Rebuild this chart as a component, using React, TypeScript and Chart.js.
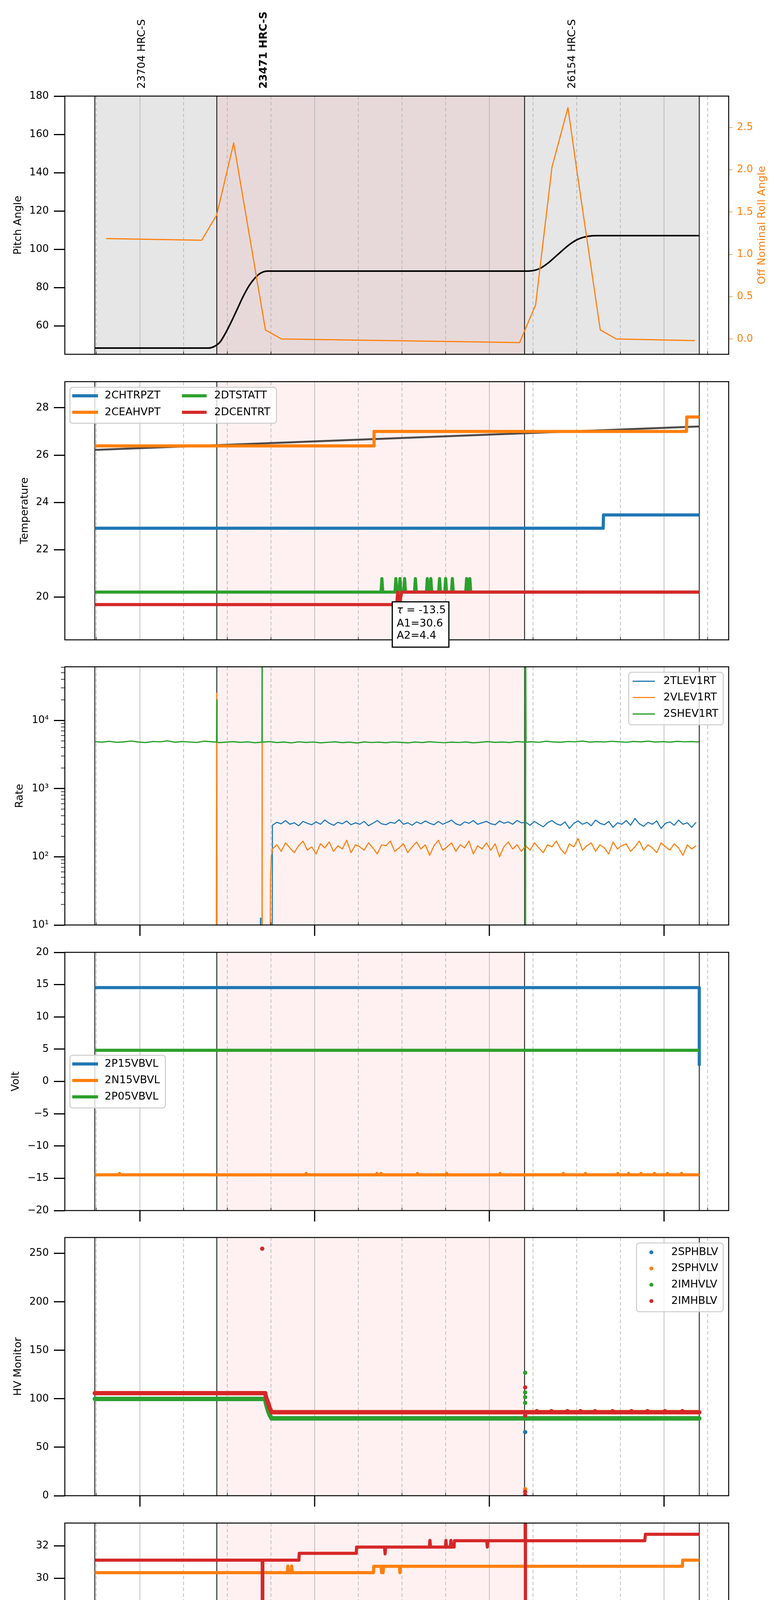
import { useEffect, useRef } from "react";
import { Chart, registerables } from "chart.js";

Chart.register(...registerables);

const FONT = "'DejaVu Sans', 'Liberation Sans', sans-serif";
const BLUE = "#1f77b4";
const ORANGE = "#ff7f0e";
const GREEN = "#2ca02c";
const RED = "#d62728";

type Pt = [number, number] | null;

// time axis: minutes after 2021-10-20 20:00
const X_MIN = 34.2;
const X_MAX = 262.2;
const hourTicks = [60, 120, 180, 240];
const hourLabels = ["21h", "22h", "23h", "00h"];
const minorTicks = [45, 75, 90, 105, 135, 150, 165, 195, 210, 225, 255];
const minorLabels = ["45", "15", "30", "45", "15", "30", "45", "15", "30", "45", "15"];
const obsEdges = [44.5, 86.4, 192.1, 252.1];
const obsidNames = ["23704 HRC-S", "23471 HRC-S", "26154 HRC-S"];
const obsidAt = [60.7, 102.6, 208.6];

// ---- panel 1: attitude ----
const pitch: Pt[] = [
  [44.5, 48.4], [83.5, 48.4], [85.5, 49.2], [87.5, 51.5], [89.5, 56.5], [91.5, 62.5], [93.5, 69],
  [95.5, 75.5], [97.5, 81], [99.5, 85], [101.5, 87.6], [104, 88.6], [193.5, 88.6], [196, 89.2],
  [198, 90.5], [200, 92.6], [202, 95.2], [204, 97.9], [206, 100.6], [208, 103], [210, 104.9],
  [212, 106.1], [214, 106.8], [217, 107.1], [252.1, 107.1],
];
const roll: Pt[] = [
  [48.4, 1.186], [81.2, 1.167], [86.35, 1.463], [92.2, 2.316], [103.1, 0.107], [108.6, 0.0],
  [190.4, -0.042], [195.9, 0.404], [201.5, 2.028], [207.0, 2.734], [209.9, 2.028], [218.1, 0.107],
  [223.6, 0.0], [250.6, -0.02],
];

// ---- panel 2: temperature ----
const tempModel: Pt[] = [[44.5, 26.22], [252.1, 27.21]];
const chtrpzt: Pt[] = [[44.5, 22.91], [219.1, 22.91], [219.2, 23.47], [252.1, 23.47]];
const ceahvpt: Pt[] = [[44.5, 26.39], [140.3, 26.39], [140.4, 27.0], [247.7, 27.0], [247.8, 27.61], [252.1, 27.61]];
const dtstatt: Pt[] = [
  [44.5, 20.21], [142.8, 20.21], [143.1, 20.78], [143.4, 20.21], [147.6, 20.21], [147.9, 20.78],
  [148.2, 20.21], [149.0, 20.21], [149.3, 20.78], [149.6, 20.21], [150.6, 20.21], [150.9, 20.78],
  [151.2, 20.21], [154.3, 20.21], [154.6, 20.78], [154.9, 20.21], [158.4, 20.21], [158.7, 20.78],
  [159.0, 20.21], [159.6, 20.21], [159.9, 20.78], [160.2, 20.21], [162.6, 20.21], [162.9, 20.78],
  [163.2, 20.21], [164.7, 20.21], [165.0, 20.78], [165.3, 20.21], [167.0, 20.21], [167.3, 20.78],
  [167.6, 20.21], [171.9, 20.21], [172.2, 20.78], [172.5, 20.21], [173.0, 20.21], [173.3, 20.78],
  [173.6, 20.21], [252.1, 20.21],
];
const dcentrt: Pt[] = [[44.5, 19.68], [148.2, 19.68], [148.5, 20.21], [149.2, 19.75], [149.9, 20.21], [252.1, 20.21]];

// ---- panel 3: rates (log) ----
const SHEV_T0 = 44.5;
const SHEV_DT = 2.5;
const shev1rtNoise = [
  4870, 4790, 4930, 4760, 4840, 4980, 4810, 4730, 4900, 4850,
  5010, 4780, 4890, 4820, 4750, 4950, 4860, 4720, 4800, 4880,
  4760, 4840, 4700, 4790, 4870, 4730, 4810, 4680, 4850, 4750,
  4820, 4690, 4770, 4840, 4720, 4790, 4660, 4830, 4740, 4800,
  4700, 4820, 4760, 4680, 4810, 4730, 4860, 4770, 4710, 4800,
  4740, 4830, 4690, 4780, 4870, 4760, 4810, 4730, 4890, 4800,
  4860, 4770, 4940, 4830, 4780, 4900, 4850, 4970, 4790, 4880,
  4820, 4930, 4860, 4770, 4910, 4840, 4960, 4810, 4880, 4790,
  4920, 4850, 4890, 4830,
];
const shev1rtSpikes: Pt[] = [
  [86.3, 4800], [86.4, 20000], [86.5, 4800], [101.9, 4800], [101.95, 90000], [102.0, 4800],
  [192.2, 4800], [192.3, 90000], [192.35, 1], [192.4, 90000], [192.45, 1], [192.5, 90000], [192.6, 4800],
];
const RATE_T0 = 105.5;
const RATE_DT = 1.5;
const tlev1rtNoise = [
  290, 320, 305, 340, 300, 315, 285, 330, 310, 295,
  325, 300, 345, 310, 290, 320, 305, 335, 295, 315,
  300, 330, 285, 310, 340, 305, 295, 320, 310, 350,
  300, 315, 290, 325, 305, 335, 310, 295, 330, 300,
  320, 345, 305, 290, 325, 310, 340, 300, 315, 330,
  305, 295, 335, 310, 325, 300, 340, 315,
  320, 290, 330, 300, 275, 315, 340, 305, 290, 325,
  260, 310, 335, 300, 320, 285, 345, 310, 295, 330,
  270, 315, 300, 340, 290, 365, 305, 280, 320, 300,
  335, 260, 310, 325, 290, 345, 300, 315, 270, 320,
];
const tlev1rtLead: Pt[] = [[101.3, 1], [101.4, 12.6], [101.5, 1], [105.4, 1]];
const vlev1rtNoise = [
  130, 150, 120, 160, 135, 115, 145, 170, 125, 140,
  110, 155, 135, 165, 120, 145, 130, 175, 115, 150,
  140, 125, 160, 135, 110, 150, 145, 170, 120, 135,
  155, 115, 140, 165, 130, 150, 105, 145, 175, 125,
  140, 160, 120, 150, 135, 170, 110, 145, 130, 160,
  125, 155, 100, 140, 165, 130, 150, 120,
  145, 125, 160, 135, 115, 150, 140, 170, 130, 110,
  155, 140, 185, 125, 145, 160, 120, 150, 135, 110,
  165, 130, 145, 155, 120, 140, 170, 125, 150, 135,
  115, 160, 140, 125, 155, 135, 105, 150, 130, 145,
];
const vlev1rtLead: Pt[] = [
  [86.2, 1], [86.35, 25000], [86.5, 1], [101.9, 1], [101.95, 4700], [102.0, 1],
  [104.7, 1], [104.8, 40], [105.1, 100],
];

// ---- panel 4: voltages ----
const p15vbvl: Pt[] = [[44.5, 14.54], [252.1, 14.54], [252.1, 2.6]];
const p05vbvl: Pt[] = [[44.5, 4.83], [252.1, 4.83]];
const n15vbvl: Pt[] = [
  [44.5, -14.46], [52.8, -14.46], [53.0, -14.25], [53.2, -14.46], [116.9, -14.46], [117.1, -14.25],
  [117.3, -14.46], [141.2, -14.46], [141.4, -14.25], [141.6, -14.46], [142.6, -14.46], [142.8, -14.25],
  [143.0, -14.46], [155.1, -14.46], [155.3, -14.25], [155.5, -14.46], [165.2, -14.46], [165.4, -14.25],
  [165.6, -14.46], [183.5, -14.46], [183.7, -14.25], [183.9, -14.46], [205.2, -14.46], [205.4, -14.25],
  [205.6, -14.46], [212.8, -14.46], [213.0, -14.25], [213.2, -14.46], [223.9, -14.46], [224.1, -14.25],
  [224.3, -14.46], [227.6, -14.46], [227.8, -14.25], [228.0, -14.46], [231.9, -14.46], [232.1, -14.25],
  [232.3, -14.46], [236.5, -14.46], [236.7, -14.25], [236.9, -14.46], [241.0, -14.46], [241.2, -14.25],
  [241.4, -14.46], [245.8, -14.46], [246.0, -14.25], [246.2, -14.46], [252.1, -14.46],
];

// ---- panel 5: HV monitor ----
const sphblv: Pt[] = [
  [44.5, 99.9], [103.0, 99.9], [103.3, 95], [103.7, 90.8], [104.1, 86.8], [104.6, 83], [105.2, 79.8],
  [192.1, 79.8], null, [192.3, 65.6], null, [192.5, 79.8], [252.1, 79.8],
];
const sphvlv: Pt[] = [
  [44.5, 105.8], [103.0, 105.8], [103.4, 100.5], [103.9, 96.8], [104.3, 92.7], [104.8, 88.9], [105.2, 86.1],
  [192.1, 86.1], null, [192.3, 6.8], null, [192.5, 86.1], [252.1, 86.1],
];
const imhvlv: Pt[] = [
  [44.5, 99.9], [103.0, 99.9], [103.3, 95], [103.7, 90.8], [104.1, 86.8], [104.6, 83], [105.2, 79.8],
  [192.1, 79.8], null, [192.3, 126.9], null, [192.3, 106.6], null, [192.3, 101.7], null, [192.3, 95.8],
  null, [192.5, 79.8], [252.1, 79.8],
];
const imhblv: Pt[] = [
  [44.5, 105.8], [101.9, 105.8], null, [102.0, 254.9], null, [102.1, 105.8], [103.0, 105.8],
  [103.4, 100.5], [103.9, 96.8], [104.3, 92.7], [104.8, 88.9], [105.2, 86.1], [192.1, 86.1],
  null, [192.3, 111.8], null, [192.3, 82.6], null, [192.3, 4.1], null, [192.3, 0.6], null,
  [192.5, 86.1], [196.0, 86.1], [196.3, 87.2], [196.6, 86.1], [201.0, 86.1], [201.3, 87.2], [201.6, 86.1],
  [206.5, 86.1], [206.8, 87.2], [207.1, 86.1], [211.0, 86.1], [211.3, 87.2], [211.6, 86.1],
  [216.0, 86.1], [216.3, 87.2], [216.6, 86.1], [222.0, 86.1], [222.3, 87.2], [222.6, 86.1],
  [228.5, 86.1], [228.8, 87.2], [229.1, 86.1], [234.0, 86.1], [234.3, 87.2], [234.6, 86.1],
  [240.0, 86.1], [240.3, 87.2], [240.6, 86.1], [246.0, 86.1], [246.3, 87.2], [246.6, 86.1], [252.1, 86.1],
];

// ---- panel 6: detector temperatures ----
const spinatm: Pt[] = [
  [44.5, 18.95], [112.9, 18.95], [113.0, 19.64], [113.3, 18.9], [113.6, 19.64], [113.9, 18.9],
  [114.2, 19.64], [114.5, 18.9], [114.8, 19.64], [115.1, 18.9], [115.4, 19.64], [115.7, 18.9],
  [116.0, 19.64], [116.3, 18.9], [116.6, 19.64], [116.9, 18.9], [117.2, 19.64], [117.5, 18.9],
  [117.8, 19.64], [118.1, 18.9], [118.4, 19.64], [124.2, 19.64], [124.3, 18.9], [124.4, 19.64],
  [252.1, 19.64],
];
const sphvatm: Pt[] = [
  [44.5, 30.34], [110.6, 30.34], [110.8, 30.75], [111.0, 30.34], [111.9, 30.34], [112.1, 30.75],
  [112.3, 30.34], [140.2, 30.34], [140.3, 30.73], [142.8, 30.73], [143.0, 30.34], [143.2, 30.73],
  [143.5, 30.34], [143.7, 30.73], [149.1, 30.73], [149.3, 30.34], [149.5, 30.73], [246.3, 30.73],
  [246.4, 31.11], [252.1, 31.11],
];
const iminatm: Pt[] = [[44.5, 20.32], [165.0, 20.32], [165.2, 21.07], [165.4, 20.32], [252.1, 20.32]];
const imhvatm: Pt[] = [
  [44.5, 31.11], [102.0, 31.11], [102.1, 10], [102.2, 31.11], [114.6, 31.11], [114.7, 31.53],
  [134.3, 31.53], [134.4, 31.92], [144.0, 31.92], [144.2, 31.5], [144.4, 31.92], [159.4, 31.92],
  [159.6, 32.33], [159.8, 31.92], [164.9, 31.92], [165.1, 32.33], [165.3, 31.92], [166.6, 31.92],
  [166.8, 32.33], [167.0, 31.92], [167.9, 31.92], [168.0, 32.31], [179.1, 32.31], [179.3, 31.92],
  [179.5, 32.31], [192.3, 32.31], [192.35, 40], [192.4, 10], [192.45, 32.31], [233.4, 32.31],
  [233.6, 32.71], [252.1, 32.71],
];

// ---- panel 7: FEA temperatures ----
const fhtrmzt: Pt[] = [[44.5, 22.92], [134.6, 22.92], [135.0, 22.38], [252.1, 22.38]];
const fradpyt: Pt[] = [[44.5, 17.65], [99.6, 17.65], [99.8, 17.16], [252.1, 17.16]];
const fepratm: Pt[] = [
  [44.5, 24.64], [101.9, 24.64], [102.0, 22.72], [102.1, 24.64], [145.5, 24.64], [145.6, 23.89],
  [145.8, 23.89], [145.9, 24.64], [167.2, 24.64], [167.3, 23.89], [167.5, 23.89], [167.6, 24.64],
  [170.1, 24.64], [170.2, 23.89], [170.5, 23.89], [170.6, 24.64], [171.2, 24.64], [171.3, 23.89],
  [172.0, 23.89], [172.1, 24.64], [172.6, 24.64], [172.7, 23.89], [173.6, 23.89], [173.7, 24.64],
  [174.1, 24.64], [174.2, 23.89], [174.9, 23.89], [175.0, 24.64], [175.2, 24.64], [175.3, 23.89],
  [203.9, 23.89], [204.6, 24.64], [205.0, 23.89], [252.1, 23.89],
];
const fe00atm: Pt[] = [
  [44.5, 22.67], [102.0, 22.67], [102.1, 10], [102.2, 22.67], [134.5, 22.67], [134.6, 23.04],
  [134.8, 22.35], [135.2, 22.67], [135.6, 22.35], [136.0, 22.67], [136.4, 22.35], [136.8, 22.67],
  [137.2, 22.35], [137.6, 22.67], [138.0, 22.35], [138.4, 22.67], [138.8, 22.35], [139.2, 22.67],
  [139.6, 22.35], [140.0, 22.67], [140.4, 22.35], [140.8, 22.67], [141.3, 22.35], [141.8, 22.67],
  [142.3, 22.35], [145.2, 22.35], [145.4, 22.67], [145.6, 22.35], [153.6, 22.35], [153.8, 22.67],
  [154.0, 22.35], [156.1, 22.35], [156.3, 24.0], [156.5, 22.35], [157.2, 22.35], [157.4, 23.04],
  [157.6, 22.35], [164.5, 22.35], [164.7, 21.71], [164.9, 22.35], [166.7, 22.35], [166.9, 22.67],
  [167.1, 22.35], [171.2, 22.35], [171.4, 21.38], [171.6, 22.35], [176.2, 22.35], [176.4, 23.36],
  [176.6, 22.35], [179.1, 22.35], [179.3, 22.67], [179.5, 22.35], [183.3, 22.35], [183.5, 23.04],
  [183.7, 22.35], [192.3, 22.35], [192.35, 30], [192.4, 10], [192.45, 22.35], [225.6, 22.35],
  [225.8, 22.03], [226.0, 22.35], [252.1, 22.35],
];

// ---- layout (page px) ----
const PANEL_TOP = [246, 977, 1707, 2438, 3168, 3899, 4629];
const PANEL_H = 661;
const AX_LEFT = 166;
const AX_RIGHT = 1866;

interface Series {
  label: string;
  color: string;
  width: number;
  pts: Pt[];
  dot?: number;
  legend?: boolean;
  axis?: string;
  smooth?: boolean;
}
interface LegendSpec {
  box: [number, number, number, number];
  rows: number[];
  cols: [number, number, number][];
}
interface PanelSpec {
  ylabel: string;
  ylabelX: number;
  yMin: number;
  yMax: number;
  yTicks: number[];
  log?: boolean;
  fmt: (v: number) => string;
  series: Series[];
  legend?: LegendSpec;
  outerTicks: boolean;
}

const plain = (v: number) => (v < 0 ? "\u2212" + Math.abs(v) : String(v));
const SUP: Record<number, string> = { 1: "\u00b9", 2: "\u00b2", 3: "\u00b3", 4: "\u2074" };
const logFmt = (v: number) => "10" + SUP[Math.round(Math.log10(v))];

const withClock = (vals: number[], t0: number, dt: number): Pt[] => vals.map((v, i) => [t0 + i * dt, v]);

const panels: PanelSpec[] = [
  {
    ylabel: "Pitch Angle", ylabelX: 47, yMin: 45.14, yMax: 180, yTicks: [60, 80, 100, 120, 140, 160, 180],
    fmt: plain, outerTicks: false,
    series: [
      { label: "pitch", color: "#000000", width: 4, pts: pitch, smooth: true },
      { label: "roll", color: ORANGE, width: 3, pts: roll, axis: "y1" },
    ],
  },
  {
    ylabel: "Temperature", ylabelX: 64, yMin: 18.19, yMax: 29.105, yTicks: [20, 22, 24, 26, 28],
    fmt: plain, outerTicks: false,
    series: [
      { label: "model", color: "#4d4949", width: 5, pts: tempModel },
      { label: "2CHTRPZT", color: BLUE, width: 8, pts: chtrpzt, legend: true },
      { label: "2CEAHVPT", color: ORANGE, width: 8, pts: ceahvpt, legend: true },
      { label: "2DTSTATT", color: GREEN, width: 8, pts: dtstatt, legend: true },
      { label: "2DCENTRT", color: RED, width: 8, pts: dcentrt, legend: true },
    ],
    legend: { box: [179, 991.5, 708, 1083.6], rows: [1013.3, 1055.5], cols: [[185, 251, 268], [466, 529, 548.5]] },
  },
  {
    ylabel: "Rate", ylabelX: 51, yMin: 10, yMax: 61000, yTicks: [10, 100, 1000, 10000], log: true,
    fmt: logFmt, outerTicks: true,
    series: [
      { label: "2TLEV1RT", color: BLUE, width: 2.8, pts: [...tlev1rtLead, ...withClock(tlev1rtNoise, RATE_T0, RATE_DT)], legend: true },
      { label: "2VLEV1RT", color: ORANGE, width: 2.8, pts: [...vlev1rtLead, ...withClock(vlev1rtNoise, RATE_T0, RATE_DT)], legend: true },
      {
        label: "2SHEV1RT", color: GREEN, width: 3.2, legend: true,
        pts: [...withClock(shev1rtNoise, SHEV_T0, SHEV_DT), ...shev1rtSpikes].sort((a, b) => a![0] - b![0]),
      },
    ],
    legend: { box: [1610, 1721, 1852, 1855.5], rows: [1744, 1785.7, 1827.8], cols: [[1620, 1677, 1699]] },
  },
  {
    ylabel: "Volt", ylabelX: 41, yMin: -20, yMax: 20, yTicks: [-20, -15, -10, -5, 0, 5, 10, 15, 20],
    fmt: plain, outerTicks: true,
    series: [
      { label: "2P15VBVL", color: BLUE, width: 8, pts: p15vbvl, legend: true },
      { label: "2N15VBVL", color: ORANGE, width: 8, pts: n15vbvl, legend: true },
      { label: "2P05VBVL", color: GREEN, width: 8, pts: p05vbvl, legend: true },
    ],
    legend: { box: [179, 2701.5, 423.5, 2836.3], rows: [2723.8, 2766, 2808], cols: [[185, 251, 268]] },
  },
  {
    ylabel: "HV Monitor", ylabelX: 47, yMin: 0, yMax: 266.4, yTicks: [0, 50, 100, 150, 200, 250],
    fmt: plain, outerTicks: true,
    series: [
      { label: "2SPHBLV", color: BLUE, width: 11, dot: 5.5, pts: sphblv, legend: true },
      { label: "2SPHVLV", color: ORANGE, width: 11, dot: 5.5, pts: sphvlv, legend: true },
      { label: "2IMHVLV", color: GREEN, width: 11, dot: 5.5, pts: imhvlv, legend: true },
      { label: "2IMHBLV", color: RED, width: 11, dot: 5.5, pts: imhblv, legend: true },
    ],
    legend: { box: [1630, 3182, 1852, 3358], rows: [3206, 3247.3, 3289, 3330.7], cols: [[1662, 1674, 1719]] },
  },
  {
    ylabel: "Detector Temp", ylabelX: 64, yMin: 17.47, yMax: 33.4, yTicks: [18, 20, 22, 24, 26, 28, 30, 32],
    fmt: plain, outerTicks: true,
    series: [
      { label: "2SPINATM", color: BLUE, width: 8, pts: spinatm, legend: true },
      { label: "2SPHVATM", color: ORANGE, width: 8, pts: sphvatm, legend: true },
      { label: "2IMINATM", color: GREEN, width: 8, pts: iminatm, legend: true },
      { label: "2IMHVATM", color: RED, width: 8, pts: imhvatm, legend: true },
    ],
    legend: { box: [1605, 4142, 1852, 4318], rows: [4165.4, 4206.6, 4247.8, 4290], cols: [[1613.5, 1674.7, 1694]] },
  },
  {
    ylabel: "FEA Temp", ylabelX: 64, yMin: 15.67, yMax: 26.13, yTicks: [16, 18, 20, 22, 24, 26],
    fmt: plain, outerTicks: true,
    series: [
      { label: "2FHTRMZT", color: BLUE, width: 8, pts: fhtrmzt, legend: true },
      { label: "2FRADPYT", color: ORANGE, width: 8, pts: fradpyt, legend: true },
      { label: "2FEPRATM", color: GREEN, width: 8, pts: fepratm, legend: true },
      { label: "2FE00ATM", color: RED, width: 8, pts: fe00atm, legend: true },
    ],
    legend: { box: [1603, 4872, 1852, 5048], rows: [4894.9, 4936.7, 4978.6, 5020.9], cols: [[1610, 1673, 1692.5]] },
  },
];

function canvasBox(i: number) {
  const top = i === 0 ? 0 : PANEL_TOP[i] - 36;
  const bottom = i < PANEL_TOP.length - 1 ? PANEL_TOP[i + 1] - 36 : 5400;
  return { top, height: bottom - top };
}

function toData(pts: Pt[]) {
  let lastX = X_MIN;
  return pts.map((p) => {
    if (p === null) return { x: lastX, y: null };
    lastX = p[0];
    return { x: p[0], y: p[1] };
  });
}

function vText(ctx: CanvasRenderingContext2D, text: string, x: number, y: number, font: string, color: string, align: CanvasTextAlign) {
  ctx.save();
  ctx.translate(x, y);
  ctx.rotate(-Math.PI / 2);
  ctx.font = font;
  ctx.fillStyle = color;
  ctx.textAlign = align;
  ctx.textBaseline = "middle";
  ctx.fillText(text, 0, 0);
  ctx.restore();
}

function line(ctx: CanvasRenderingContext2D, x0: number, y0: number, x1: number, y1: number) {
  ctx.beginPath();
  ctx.moveTo(x0, y0);
  ctx.lineTo(x1, y1);
  ctx.stroke();
}

function roundedRect(ctx: CanvasRenderingContext2D, x: number, y: number, w: number, h: number, r: number) {
  ctx.beginPath();
  ctx.moveTo(x + r, y);
  ctx.lineTo(x + w - r, y);
  ctx.arcTo(x + w, y, x + w, y + r, r);
  ctx.lineTo(x + w, y + h - r);
  ctx.arcTo(x + w, y + h, x + w - r, y + h, r);
  ctx.lineTo(x + r, y + h);
  ctx.arcTo(x, y + h, x, y + h - r, r);
  ctx.lineTo(x, y + r);
  ctx.arcTo(x, y, x + r, y, r);
  ctx.closePath();
}

function makeDeco(idx: number, spec: PanelSpec, oy: number) {
  return {
    id: "deco" + idx,
    beforeDatasetsDraw(chart: any) {
      const ctx: CanvasRenderingContext2D = chart.ctx;
      const a = chart.chartArea;
      const px = (t: number) => chart.scales.x.getPixelForValue(t);
      ctx.save();
      ctx.beginPath();
      ctx.rect(a.left, a.top, a.right - a.left, a.bottom - a.top);
      ctx.clip();
      if (idx === 0) {
        ctx.fillStyle = "rgba(128,128,128,0.2)";
        ctx.fillRect(px(obsEdges[0]), a.top, px(obsEdges[3]) - px(obsEdges[0]), a.bottom - a.top);
      }
      ctx.fillStyle = "rgba(255,0,0,0.055)";
      ctx.fillRect(px(obsEdges[1]), a.top, px(obsEdges[2]) - px(obsEdges[1]), a.bottom - a.top);
      ctx.strokeStyle = "#b0b0b0";
      ctx.lineWidth = 1.6;
      hourTicks.forEach((t) => line(ctx, px(t), a.top, px(t), a.bottom));
      ctx.setLineDash([9, 6]);
      minorTicks.forEach((t) => line(ctx, px(t), a.top, px(t), a.bottom));
      ctx.setLineDash([]);
      ctx.strokeStyle = "#000";
      ctx.lineWidth = 2;
      obsEdges.forEach((t) => line(ctx, px(t), a.top, px(t), a.bottom));
      ctx.restore();
    },
    afterDatasetsDraw(chart: any) {
      const ctx: CanvasRenderingContext2D = chart.ctx;
      const a = chart.chartArea;
      const px = (t: number) => chart.scales.x.getPixelForValue(t);
      ctx.save();
      // frame
      ctx.strokeStyle = "#000";
      ctx.lineWidth = 2.5;
      ctx.strokeRect(a.left, a.top, a.right - a.left, a.bottom - a.top);
      // x ticks
      ctx.lineWidth = 1.5;
      minorTicks.forEach((t) => line(ctx, px(t), a.bottom, px(t), a.bottom - 7));
      if (spec.outerTicks) {
        ctx.lineWidth = 3;
        hourTicks.forEach((t) => line(ctx, px(t), a.bottom, px(t), a.bottom + 28));
      }
      // log minor ticks
      if (spec.log) {
        const ys = chart.scales.y;
        ctx.lineWidth = 1.5;
        [10, 100, 1000, 10000].forEach((d) => {
          for (let m = 2; m <= 9; m++) {
            const v = m * d;
            if (v > spec.yMax) continue;
            const y = ys.getPixelForValue(v);
            line(ctx, a.left - 10, y, a.left, y);
          }
        });
      }
      // y label
      vText(ctx, spec.ylabel, spec.ylabelX, (a.top + a.bottom) / 2, `27px ${FONT}`, "#000", "center");
      // legend
      if (spec.legend) {
        const lg = spec.legend;
        const [x0, y0, x1, y1] = lg.box;
        roundedRect(ctx, x0, y0 - oy, x1 - x0, y1 - y0, 7);
        ctx.fillStyle = "rgba(255,255,255,0.8)";
        ctx.fill();
        ctx.strokeStyle = "#cccccc";
        ctx.lineWidth = 2.5;
        ctx.stroke();
        const items = spec.series.filter((s) => s.legend);
        items.forEach((s, i) => {
          const col = Math.floor(i / lg.rows.length);
          const row = i % lg.rows.length;
          const [hx0, hx1, tx] = lg.cols[col];
          const y = lg.rows[row] - oy;
          if (s.dot) {
            ctx.fillStyle = s.color;
            ctx.beginPath();
            ctx.arc((hx0 + hx1) / 2, y, 5, 0, Math.PI * 2);
            ctx.fill();
          } else {
            ctx.strokeStyle = s.color;
            ctx.lineWidth = s.width;
            line(ctx, hx0, y, hx1, y);
          }
          ctx.fillStyle = "#000";
          ctx.font = `27px ${FONT}`;
          ctx.textAlign = "left";
          ctx.textBaseline = "middle";
          ctx.fillText(s.label, tx, y);
        });
      }
      if (idx === 0) {
        obsidNames.forEach((name, i) => {
          const font = `${i === 1 ? "bold " : ""}27px ${FONT}`;
          vText(ctx, name, px(obsidAt[i]), 227 - oy, font, "#000", "left");
        });
        vText(ctx, "Off Nominal Roll Angle", 1952, (a.top + a.bottom) / 2, `27px ${FONT}`, ORANGE, "center");
      }
      if (idx === 1) {
        ctx.fillStyle = "#fff";
        ctx.fillRect(1004.5, 1540.7 - oy, 145, 116);
        ctx.strokeStyle = "#000";
        ctx.lineWidth = 3;
        ctx.strokeRect(1004.5, 1540.7 - oy, 145, 116);
        ctx.fillStyle = "#000";
        ctx.textAlign = "left";
        ctx.textBaseline = "middle";
        ctx.font = `italic 27px ${FONT}`;
        ctx.fillText("\u03c4", 1016, 1563 - oy);
        const tw = ctx.measureText("\u03c4").width;
        ctx.font = `27px ${FONT}`;
        ctx.fillText(" = -13.5", 1016 + tw, 1563 - oy);
        ctx.fillText("A1=30.6", 1016, 1596.7 - oy);
        ctx.fillText("A2=4.4", 1016, 1628.3 - oy);
      }
      if (idx === 6) {
        ctx.fillStyle = "#000";
        ctx.textAlign = "center";
        ctx.textBaseline = "middle";
        ctx.font = `18px ${FONT}`;
        minorTicks.forEach((t, i) => ctx.fillText(minorLabels[i], px(t), 5305.6 - oy));
        ctx.font = `26px ${FONT}`;
        hourTicks.forEach((t, i) => ctx.fillText(hourLabels[i], px(t), 5341 - oy));
        ctx.font = `33px ${FONT}`;
        ctx.fillText("2021-10-20 (293)", (AX_LEFT + AX_RIGHT) / 2, 5378 - oy);
      }
      ctx.restore();
    },
  };
}

function buildConfig(idx: number): any {
  const spec = panels[idx];
  const { top, height } = canvasBox(idx);
  const padTop = PANEL_TOP[idx] - top;
  const padBottom = top + height - (PANEL_TOP[idx] + PANEL_H);
  // Chart.js paints the lowest "order" last; later series must land on top
  const datasets = spec.series.map((s, i) => ({
    label: s.label,
    data: toData(s.pts),
    order: -i,
    borderColor: s.color,
    backgroundColor: s.color,
    pointBackgroundColor: s.color,
    borderWidth: s.width,
    pointRadius: s.dot ?? 0,
    pointHoverRadius: 0,
    pointBorderWidth: 0,
    fill: false,
    tension: 0,
    cubicInterpolationMode: s.smooth ? "monotone" : "default",
    spanGaps: false,
    clip: 0,
    borderJoinStyle: "round",
    borderCapStyle: "butt",
    yAxisID: s.axis ?? "y",
  }));
  const tickFont = { family: FONT, size: 26 };
  const scales: any = {
    x: { type: "linear", min: X_MIN, max: X_MAX, display: false },
    y: {
      type: spec.log ? "logarithmic" : "linear",
      position: "left",
      min: spec.yMin,
      max: spec.yMax,
      bounds: "data",
      afterBuildTicks: (s: any) => {
        s.ticks = spec.yTicks.map((v) => ({ value: v }));
      },
      afterFit: (s: any) => {
        s.width = AX_LEFT;
      },
      ticks: { font: tickFont, color: "#000", padding: 13, autoSkip: false, maxRotation: 0, callback: (v: any) => spec.fmt(Number(v)) },
      grid: { drawOnChartArea: false, drawTicks: true, tickLength: 28, tickWidth: 3, tickColor: "#000" },
      border: { display: false },
    },
  };
  if (idx === 0) {
    scales.y1 = {
      type: "linear",
      position: "right",
      min: -0.181,
      max: 2.87,
      bounds: "data",
      afterBuildTicks: (s: any) => {
        s.ticks = [0, 0.5, 1.0, 1.5, 2.0, 2.5].map((v) => ({ value: v }));
      },
      afterFit: (s: any) => {
        s.width = 2000 - AX_RIGHT;
      },
      ticks: { font: tickFont, color: ORANGE, padding: 11, autoSkip: false, maxRotation: 0, callback: (v: any) => Number(v).toFixed(1) },
      grid: { drawOnChartArea: false, drawTicks: true, tickLength: 10, tickWidth: 1.5, tickColor: ORANGE },
      border: { display: false },
    };
  }
  return {
    type: "line",
    data: { datasets },
    options: {
      animation: false,
      responsive: true,
      maintainAspectRatio: false,
      events: [],
      layout: { padding: { top: padTop, bottom: padBottom, left: 0, right: idx === 0 ? 0 : 2000 - AX_RIGHT } },
      plugins: { legend: { display: false }, tooltip: { enabled: false }, title: { display: false } },
      scales,
    },
    plugins: [makeDeco(idx, spec, top)],
  };
}

function Panel({ idx }: { idx: number }) {
  const ref = useRef<HTMLCanvasElement>(null);
  const { top, height } = canvasBox(idx);
  useEffect(() => {
    if (!ref.current) return;
    const chart = new Chart(ref.current, buildConfig(idx));
    return () => chart.destroy();
  }, [idx]);
  return (
    <div style={{ position: "absolute", left: 0, top, width: 2000, height }}>
      <canvas ref={ref} />
    </div>
  );
}

export default function App() {
  return (
    <div style={{ position: "absolute", left: 0, top: 0, width: 2000, height: 5400, background: "#fff" }}>
      {panels.map((_, i) => (
        <Panel key={i} idx={i} />
      ))}
    </div>
  );
}
